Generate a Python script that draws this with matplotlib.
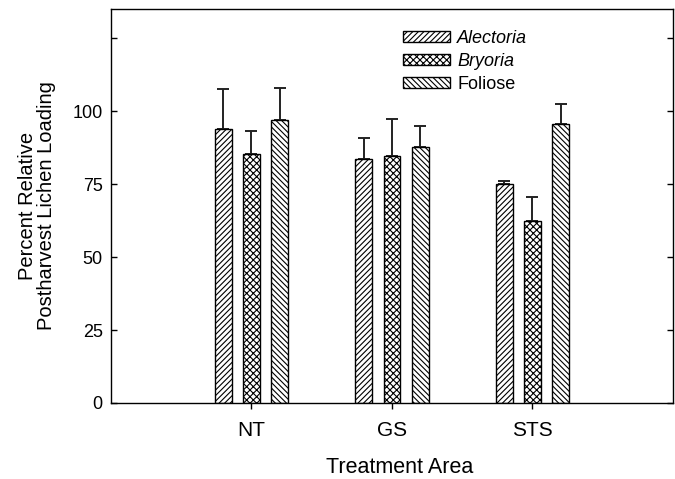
import numpy as np
import matplotlib
matplotlib.use("Agg")
from matplotlib import pyplot as plt

plt.rcParams['font.family'] = ['Liberation Sans', 'DejaVu Sans']
plt.rcParams['hatch.linewidth'] = 0.8

# data
areas = ['NT', 'GS', 'STS']
series = ['Alectoria', 'Bryoria', 'Foliose']
alectoria = [93.9, 83.7, 75.0]
bryoria = [85.2, 84.8, 62.2]
foliose = [97.0, 87.7, 95.7]
alectoria_err = [13.6, 7.1, 1.0]
bryoria_err = [8.0, 12.4, 8.3]
foliose_err = [10.8, 7.3, 6.8]

values = [alectoria, bryoria, foliose]
errors = [alectoria_err, bryoria_err, foliose_err]
hatches = ['//////', 'xxxxx', '\\\\\\\\\\\\']
offsets = [-0.2, 0.0, 0.2]

fig = plt.figure(figsize=(6.75, 4.79), dpi=100)
ax = fig.add_axes([0.1644, 0.1587, 0.8326, 0.8225])

x = np.arange(1, len(areas) + 1)
w = 0.12
for vals, errs, h, off, name in zip(values, errors, hatches, offsets, series):
    ax.bar(x + off, vals, width=w, color='white', edgecolor='black',
           linewidth=1.0, hatch=h, label=name, zorder=2)
    ax.errorbar(x + off, vals, yerr=[np.zeros(len(errs)), errs], fmt='none',
                ecolor='#222222', elinewidth=1.4, capsize=4, capthick=1.4,
                zorder=1)

ax.set_xlim(0, 4)
ax.set_ylim(0, 135)
ax.set_xticks(x)
ax.set_xticklabels(areas, fontsize=15)
ax.set_yticks([0, 25, 50, 75, 100, 125])
ax.set_yticklabels(['0', '25', '50', '75', '100', ''], fontsize=13)
ax.tick_params(axis='y', direction='in', length=4, width=1, right=True, pad=6)
ax.tick_params(axis='x', direction='out', length=4, width=1, pad=9)
for s in ax.spines.values():
    s.set_linewidth(1.0)

ax.set_xlabel('Treatment Area', fontsize=15.5)
ax.xaxis.set_label_coords(0.514, -0.137)
ax.set_ylabel('Percent Relative\nPostharvest Lichen Loading', fontsize=14.5,
              labelpad=12, linespacing=1.0)

leg = ax.legend(loc='upper left', bbox_to_anchor=(0.507, 0.965), frameon=False,
                fontsize=13, handlelength=2.6, handleheight=0.6,
                handletextpad=0.4, labelspacing=0.33, borderaxespad=0)
for t in leg.get_texts()[:2]:
    t.set_fontstyle('italic')

fig.savefig('out.png', dpi=100)
